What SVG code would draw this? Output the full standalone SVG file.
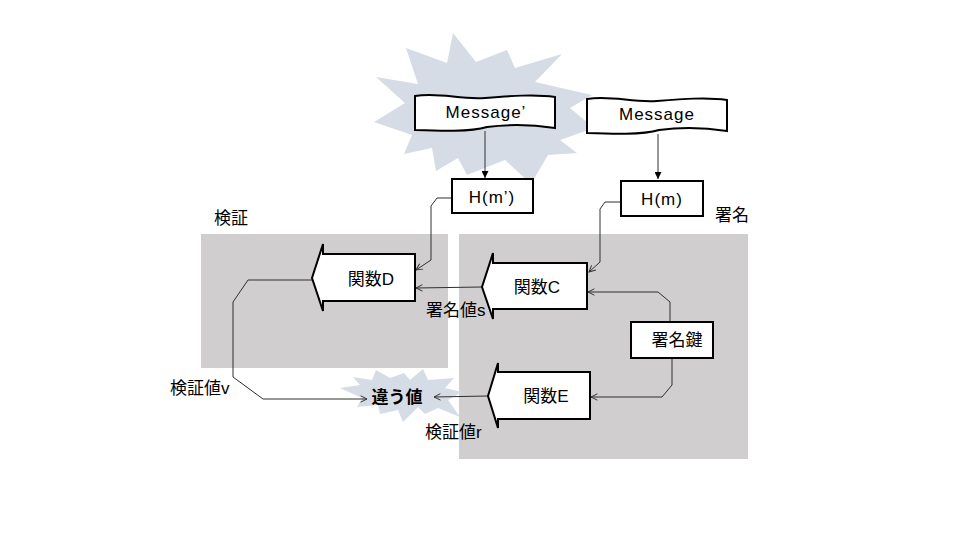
<svg xmlns="http://www.w3.org/2000/svg" width="960" height="540" viewBox="0 0 960 540">
<defs>
<marker id="open" viewBox="0 0 10 10" refX="9" refY="5" markerWidth="8" markerHeight="8" markerUnits="userSpaceOnUse" orient="auto">
<path d="M1,1 L9,5 L1,9" fill="none" stroke="#303030" stroke-width="1.2"/>
</marker>
<marker id="solid" viewBox="0 0 10 10" refX="10" refY="5" markerWidth="7" markerHeight="7" markerUnits="userSpaceOnUse" orient="auto">
<path d="M0,0 L10,5 L0,10 Z" fill="#000"/>
</marker>
</defs>
<style>
.t{font-family:"Liberation Sans","Noto Sans CJK JP",sans-serif;font-size:17px;fill:#000;}
.c{text-anchor:middle;dominant-baseline:central;}
.w{letter-spacing:1px;}
.box{fill:#fff;stroke:#000;stroke-width:2;}
.arr{fill:#fff;stroke:#000;stroke-width:2;stroke-linejoin:miter;}
.ln{fill:none;stroke:#303030;stroke-width:1;}
.burst{fill:#d6dce5;}
.area{fill:#d0cece;}
</style>
<rect width="960" height="540" fill="#fff"/>

<g id="areas">
<rect class="area" x="201" y="234" width="247" height="134"/>
<rect class="area" x="459" y="234" width="289" height="225"/>
<text class="t" x="214" y="224">検証</text>
<text class="t" x="715" y="221">署名</text>
</g>

<g id="burst-big">
<polygon class="burst" points="453,33 476,62 507,50 515,68 562,54 535,82 592,95 570,108 594,128 560,140 577,153 548,155 531,184 505,160 467,175 458,158 436,171 432,148 404,154 412,135 374,122 405,103 376,77 418,84 406,48 447,63"/>
</g>

<g id="burst-small">
<polygon class="burst" points="340,388 360,385 353,377 372,380 376,370 390,378 404,373 410,380 423,369 428,380 454,378 445,388 462,392 448,400 460,417 438,408 425,414 418,407 403,422 398,410 380,414 378,405 357,407 362,398"/>
</g>

<g id="connectors">
<line class="ln" x1="485" y1="131" x2="485" y2="178" marker-end="url(#solid)"/>
<line class="ln" x1="658" y1="134" x2="658" y2="179" marker-end="url(#solid)"/>
<polyline class="ln" points="452,198 437,198 431,206 431,260 416,270" marker-end="url(#open)"/>
<polyline class="ln" points="621,202 605,202 600,209 600,262 589,272" marker-end="url(#open)"/>
<line class="ln" x1="482" y1="287" x2="416" y2="288" marker-end="url(#open)"/>
<polyline class="ln" points="670,322 670,302 658,292 588,292" marker-end="url(#open)"/>
<polyline class="ln" points="672,358 672,385 662,397 591,397" marker-end="url(#open)"/>
<line class="ln" x1="488" y1="396" x2="434" y2="397" marker-end="url(#open)"/>
<polyline class="ln" points="312,280 248,280 233,302 233,377 263,399 367,399" marker-end="url(#open)"/>
</g>

<g id="message-prime">
<path class="box" stroke-width="1.8" d="M415,96 C440,92 460,100 485,98 C510,96 535,94 555,97 L555,128 C535,125 510,124 487,127 C470,132 440,131 415,130 Z"/>
<text class="t c w" x="486" y="112">Message’</text>
</g>

<g id="message">
<path class="box" stroke-width="1.8" d="M587,99 C612,95 632,103 657,101 C682,99 707,97 727,100 L727,131 C707,128 682,127 659,130 C642,135 612,134 587,133 Z"/>
<text class="t c w" x="657" y="114">Message</text>
</g>

<g id="hm-prime">
<rect class="box" x="452" y="179" width="81" height="34"/>
<text class="t c w" x="492" y="197">H(m’)</text>
</g>

<g id="hm">
<rect class="box" x="621" y="181" width="82" height="35"/>
<text class="t c w" x="662" y="199">H(m)</text>
</g>

<g id="func-d">
<path class="arr" d="M415,254 L323,254 L323,244 L312,278 L323,311 L323,301 L415,301 Z"/>
<text class="t c" x="371" y="279">関数D</text>
</g>

<g id="func-c">
<path class="arr" d="M587,263 L493,263 L493,253 L482,287 L493,319 L493,309 L587,309 Z"/>
<text class="t c" x="537" y="287">関数C</text>
</g>

<g id="func-e">
<path class="arr" d="M590,372 L498,372 L498,363 L488,396 L498,428 L498,419 L590,419 Z"/>
<text class="t c" x="546" y="396">関数E</text>
</g>

<g id="key">
<rect class="box" x="631" y="322" width="82" height="36"/>
<text class="t c" x="677" y="340">署名鍵</text>
</g>

<g id="labels">
<text class="t" x="426" y="316">署名値s</text>
<text class="t" x="170" y="394">検証値v</text>
<text class="t" x="425" y="438">検証値r</text>
<text class="t c" x="397" y="397" font-weight="bold">違う値</text>
</g>
</svg>
